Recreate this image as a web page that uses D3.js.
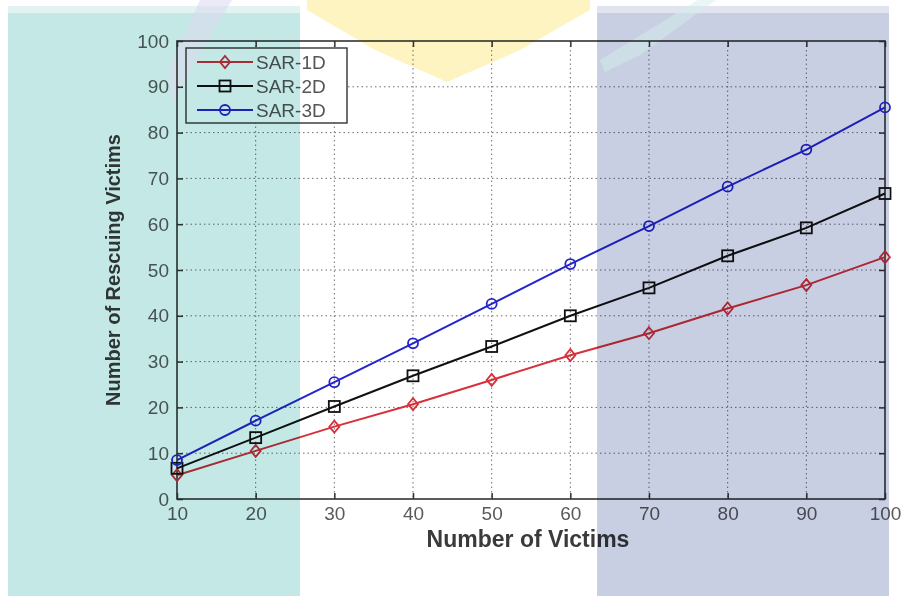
<!DOCTYPE html>
<html>
<head>
<meta charset="utf-8">
<script src="https://cdn.jsdelivr.net/npm/d3@7"></script>
<style>
  body { margin: 0; background: #fff; }
  svg { display: block; font-family: "Liberation Sans", Arial, sans-serif; }
</style>
</head>
<body>
<svg id="chart" width="906" height="599"></svg>
<script>
// data
var victims = [10, 20, 30, 40, 50, 60, 70, 80, 90, 100];
var sar1d = [5.2, 10.5, 15.8, 20.7, 26.0, 31.4, 36.2, 41.6, 46.7, 52.8];
var sar2d = [6.7, 13.4, 20.2, 26.9, 33.3, 40.0, 46.1, 53.1, 59.2, 66.7];
var sar3d = [8.5, 17.1, 25.5, 34.0, 42.6, 51.3, 59.6, 68.2, 76.3, 85.5];
var seriesNames = ["SAR-1D", "SAR-2D", "SAR-3D"];
var xTicks = [10, 20, 30, 40, 50, 60, 70, 80, 90, 100];
var yTicks = [0, 10, 20, 30, 40, 50, 60, 70, 80, 90, 100];

var svg = d3.select("#chart"),
    margin = {top: 41, right: 21, bottom: 100, left: 177},
    width = +svg.attr("width") - margin.left - margin.right,
    height = +svg.attr("height") - margin.top - margin.bottom;

svg.append("rect").attr("width", 906).attr("height", 599).attr("fill", "#fff");

var g = svg.append("g").attr("transform", "translate(" + margin.left + "," + margin.top + ")");

var x = d3.scaleLinear().domain([10, 100]).range([0, width]);
var y = d3.scaleLinear().domain([0, 100]).range([height, 0]);

var series = [
  {name: seriesNames[0], values: sar1d, color: "#d8303a", marker: "diamond"},
  {name: seriesNames[1], values: sar2d, color: "#111", marker: "square"},
  {name: seriesNames[2], values: sar3d, color: "#2424cc", marker: "circle"}
];

// grid
g.append("g").selectAll("line").data(xTicks.slice(1, -1)).enter().append("line")
  .attr("x1", function(d) { return x(d); }).attr("x2", function(d) { return x(d); })
  .attr("y1", 0).attr("y2", height)
  .attr("stroke", "#6f6f6f").attr("stroke-width", 1).attr("stroke-dasharray", "1.5,3");
g.append("g").selectAll("line").data(yTicks.slice(1, -1)).enter().append("line")
  .attr("y1", function(d) { return y(d); }).attr("y2", function(d) { return y(d); })
  .attr("x1", 0).attr("x2", width)
  .attr("stroke", "#6f6f6f").attr("stroke-width", 1).attr("stroke-dasharray", "1.5,3");

// axes, matlab box style with inward ticks
function styleAxis(sel) {
  sel.select(".domain").remove();
  sel.selectAll(".tick line").attr("stroke", "#333").attr("stroke-width", 1.5);
  sel.selectAll("text").attr("fill", "#5a5a5a").attr("font-size", 19);
}
g.append("g").attr("transform", "translate(0," + height + ")")
  .call(d3.axisBottom(x).tickValues(xTicks).tickSizeInner(-6).tickSizeOuter(0).tickPadding(8))
  .call(styleAxis);
g.append("g")
  .call(d3.axisLeft(y).tickValues(yTicks).tickSizeInner(-6).tickSizeOuter(0).tickPadding(8))
  .call(styleAxis);
g.append("g")
  .call(d3.axisTop(x).tickValues(xTicks).tickSizeInner(-6).tickSizeOuter(0).tickFormat(""))
  .call(styleAxis);
g.append("g").attr("transform", "translate(" + width + ",0)")
  .call(d3.axisRight(y).tickValues(yTicks).tickSizeInner(-6).tickSizeOuter(0).tickFormat(""))
  .call(styleAxis);

g.append("rect").attr("width", width).attr("height", height)
  .attr("fill", "none").attr("stroke", "#333").attr("stroke-width", 1.6);

// lines and markers
var line = d3.line()
  .x(function(d, i) { return x(victims[i]); })
  .y(function(d) { return y(d); });

function drawMarker(sel, type, color) {
  if (type == "circle") {
    sel.append("circle").attr("r", 5);
  } else if (type == "square") {
    sel.append("rect").attr("x", -5.5).attr("y", -5.5).attr("width", 11).attr("height", 11);
  } else {
    sel.append("path").attr("d", "M0,-6L5,0L0,6L-5,0Z");
  }
  sel.selectAll("circle,rect,path").attr("fill", "none").attr("stroke", color).attr("stroke-width", 1.8);
}

series.forEach(function(s) {
  g.append("path").datum(s.values)
    .attr("fill", "none").attr("stroke", s.color).attr("stroke-width", 2)
    .attr("d", line);
  g.append("g").selectAll("g").data(s.values).enter().append("g")
    .attr("transform", function(d, i) { return "translate(" + x(victims[i]) + "," + y(d) + ")"; })
    .each(function() { drawMarker(d3.select(this), s.marker, s.color); });
});

// legend
var legend = g.append("g").attr("transform", "translate(9,7)");
legend.append("rect").attr("width", 161).attr("height", 75)
  .attr("fill", "#fff").attr("stroke", "#333").attr("stroke-width", 1.4);
var item = legend.selectAll(".item").data(series).enter().append("g")
  .attr("transform", function(d, i) { return "translate(0," + (14 + i * 24) + ")"; });
item.append("line").attr("x1", 11).attr("x2", 67).attr("y1", 0).attr("y2", 0)
  .attr("stroke", function(d) { return d.color; }).attr("stroke-width", 2);
item.append("g").attr("transform", "translate(39,0)")
  .each(function(d) { drawMarker(d3.select(this), d.marker, d.color); });
item.append("text").attr("x", 70).attr("dy", "0.35em")
  .attr("font-size", 19).attr("fill", "#555")
  .text(function(d) { return d.name; });

// axis titles
svg.append("text")
  .attr("x", 528).attr("y", 547)
  .attr("text-anchor", "middle").attr("font-size", 23).attr("font-weight", "bold").attr("fill", "#3a3a3a")
  .text("Number of Victims");
svg.append("text")
  .attr("transform", "translate(120,270) rotate(-90)")
  .attr("text-anchor", "middle").attr("font-size", 20).attr("font-weight", "bold").attr("fill", "#3a3a3a")
  .text("Number of Rescuing Victims");

// coloured watermark laid over the picture
var wm = svg.append("g").style("mix-blend-mode", "multiply");
wm.append("rect").attr("x", 8).attr("y", 6).attr("width", 292).attr("height", 590).attr("fill", "#c4e8e6");
wm.append("rect").attr("x", 8).attr("y", 6).attr("width", 292).attr("height", 7).attr("fill", "#e2f3f2").style("mix-blend-mode", "normal");
wm.append("rect").attr("x", 597).attr("y", 6).attr("width", 292).attr("height", 590).attr("fill", "#c9cfe3");
wm.append("rect").attr("x", 597).attr("y", 6).attr("width", 292).attr("height", 7).attr("fill", "#e1e4ef").style("mix-blend-mode", "normal");
wm.append("path").attr("d", "M307,0L590,0L590,10L520,50L447,82L375,50L307,10Z").attr("fill", "#fdf4c2");
wm.append("path").attr("d", "M200,0L232,0L196,60L172,105L168,70Z").attr("fill", "#dcd8ee").attr("opacity", 0.55);
wm.append("path").attr("d", "M698,0L716,0L640,55L605,72L600,60Z").attr("fill", "#d2eeec").attr("opacity", 0.5);
</script>
</body>
</html>
